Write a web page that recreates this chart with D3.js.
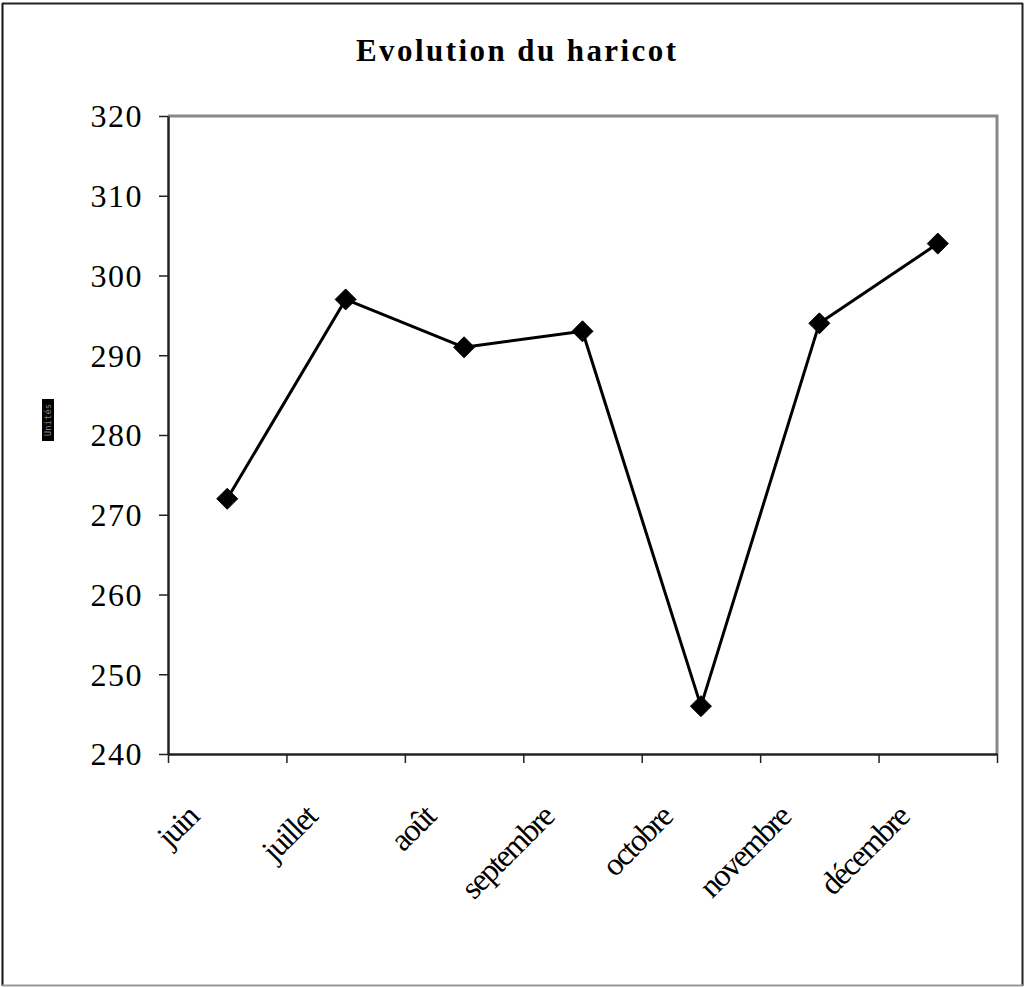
<!DOCTYPE html>
<html>
<head>
<meta charset="utf-8">
<script src="https://cdn.jsdelivr.net/npm/d3@7"></script>
<style>
  html, body { margin: 0; padding: 0; background: #fff; }
  svg { display: block; }
</style>
</head>
<body>
<svg id="chart" width="1025" height="987"></svg>
<script>
const title = "Evolution du haricot";
const months = ["juin", "juillet", "août", "septembre", "octobre", "novembre", "décembre"];
const values = [272, 297, 291, 293, 246, 294, 304];
const yTicks = [240, 250, 260, 270, 280, 290, 300, 310, 320];
const yLabel = "Unités";

const svg = d3.select("#chart");
const W = 1025, H = 987;
const m = { left: 168, right: 997, top: 116, bottom: 754 };

// outer frame
svg.append("rect").attr("x", 0).attr("y", 0).attr("width", W).attr("height", H).attr("fill", "#fff");
svg.append("line").attr("x1", 2.5).attr("y1", 3).attr("x2", 2.5).attr("y2", 986).attr("stroke", "#111").attr("stroke-width", 2);
svg.append("line").attr("x1", 2).attr("y1", 3.5).attr("x2", 1023).attr("y2", 3.5).attr("stroke", "#222").attr("stroke-width", 2);
svg.append("line").attr("x1", 1022.5).attr("y1", 3).attr("x2", 1022.5).attr("y2", 986).attr("stroke", "#222").attr("stroke-width", 2);
svg.append("line").attr("x1", 2).attr("y1", 985.5).attr("x2", 1023).attr("y2", 985.5).attr("stroke", "#999").attr("stroke-width", 2);

const x = d3.scaleBand().domain(months).range([m.left, m.right]).padding(0);
const y = d3.scaleLinear().domain([240, 320]).range([m.bottom, m.top]);

// plot area border (top and right gray)
svg.append("path")
  .attr("d", `M${m.left},${y(320)}H${m.right}V${y(240)}`)
  .attr("fill", "none").attr("stroke", "#888").attr("stroke-width", 3);

// title
svg.append("text")
  .attr("x", 516).attr("y", 61)
  .attr("text-anchor", "middle")
  .attr("font-family", "Liberation Serif, Times New Roman, serif")
  .attr("font-weight", "bold")
  .attr("font-size", 31)
  .attr("textLength", 320)
  .attr("lengthAdjust", "spacing")
  .text(title);

// y axis
const yAxis = d3.axisLeft(y).tickValues(yTicks).tickSize(9).tickSizeOuter(0).tickPadding(0);
const gy = svg.append("g").attr("transform", `translate(${m.left},0)`).call(yAxis);
gy.select(".domain").attr("stroke", "#222").attr("stroke-width", 2.5);
gy.selectAll(".tick line").attr("stroke", "#222").attr("stroke-width", 1.5);
gy.selectAll(".tick text")
  .attr("x", -25)
  .attr("dy", "0.34em")
  .attr("font-family", "Liberation Serif, Times New Roman, serif")
  .attr("font-size", 32)
  .attr("letter-spacing", 1.5)
  .attr("fill", "#000");

// x axis: ticks at category boundaries
const xLin = d3.scaleLinear().domain([0, months.length]).range([m.left, m.right]);
const xAxis = d3.axisBottom(xLin).tickValues(d3.range(0, months.length + 1)).tickSize(9).tickSizeOuter(0).tickFormat("");
const gx = svg.append("g").attr("transform", `translate(0,${m.bottom})`).call(xAxis);
gx.select(".domain").attr("stroke", "#222").attr("stroke-width", 2.5);
gx.selectAll(".tick line").attr("stroke", "#222").attr("stroke-width", 1.5);

// x labels rotated -45
svg.append("g").selectAll("text")
  .data(months)
  .join("text")
  .attr("transform", d => `translate(${x(d) + x.bandwidth() / 2 - 27},${m.bottom + 65}) rotate(-45)`)
  .attr("text-anchor", "end")
  .attr("font-family", "Liberation Serif, Times New Roman, serif")
  .attr("font-size", 32)
  .attr("letter-spacing", -1.8)
  .attr("fill", "#000")
  .text(d => d);

// y label (garbled black box in reference)
const ylg = svg.append("g").attr("transform", "translate(48,420) rotate(-90)");
ylg.append("rect").attr("x", -21).attr("y", -6).attr("width", 42).attr("height", 12).attr("fill", "#000");
ylg.append("text").attr("text-anchor", "middle").attr("dy", "0.35em")
  .attr("font-family", "DejaVu Sans Mono, monospace").attr("font-size", 9)
  .attr("fill", "#888").text(yLabel);

// line
const line = d3.line()
  .x((d, i) => x(months[i]) + x.bandwidth() / 2)
  .y(d => y(d));
svg.append("path").datum(values)
  .attr("d", line)
  .attr("fill", "none").attr("stroke", "#000").attr("stroke-width", 3).attr("stroke-linejoin", "round");

// diamond markers
const r = 10.5;
svg.append("g").selectAll("path")
  .data(values)
  .join("path")
  .attr("d", (d, i) => {
    const cx = x(months[i]) + x.bandwidth() / 2, cy = y(d);
    return `M${cx},${cy - r}L${cx + r},${cy}L${cx},${cy + r}L${cx - r},${cy}Z`;
  })
  .attr("fill", "#000")
  .attr("stroke", "#000").attr("stroke-width", 1).attr("stroke-linejoin", "round");
</script>
</body>
</html>
